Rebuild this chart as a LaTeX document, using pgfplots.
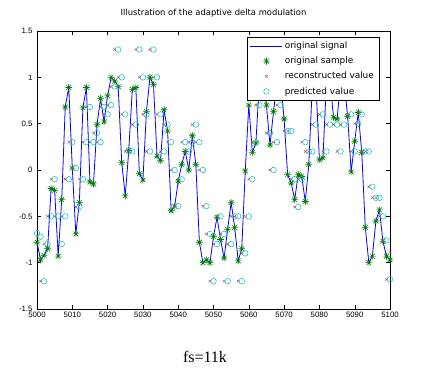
\documentclass[border=0pt]{standalone}
\usepackage{pgfplots}
\usepackage{pgfplotstable}
\pgfplotsset{compat=1.18}
\usepackage{fontspec}
\setmainfont{Liberation Serif}
\newfontfamily\arial{Liberation Sans}
\newfontfamily\msans{DejaVu Sans}
\definecolor{mblue}{rgb}{0,0,1}
\definecolor{mgreen}{rgb}{0,0.5,0}
\definecolor{mred}{rgb}{0.85,0.2,0.3}
\definecolor{mcyan}{rgb}{0,0.75,0.75}
\pgfdeclareplotmark{mstar}{%
  \pgfpathmoveto{\pgfqpoint{-\pgfplotmarksize}{0pt}}\pgfpathlineto{\pgfqpoint{\pgfplotmarksize}{0pt}}%
  \pgfpathmoveto{\pgfqpoint{0pt}{-\pgfplotmarksize}}\pgfpathlineto{\pgfqpoint{0pt}{\pgfplotmarksize}}%
  \pgfpathmoveto{\pgfqpoint{-0.7\pgfplotmarksize}{-0.7\pgfplotmarksize}}\pgfpathlineto{\pgfqpoint{0.7\pgfplotmarksize}{0.7\pgfplotmarksize}}%
  \pgfpathmoveto{\pgfqpoint{-0.7\pgfplotmarksize}{0.7\pgfplotmarksize}}\pgfpathlineto{\pgfqpoint{0.7\pgfplotmarksize}{-0.7\pgfplotmarksize}}%
  \pgfusepathqstroke}
\pgfplotstableread{
n s r
5000 -0.78 -0.72
5001 -0.97 -1.20
5002 -0.92 -0.80
5003 -0.85 -0.50
5004 -0.20 -0.10
5005 -0.22 -0.50
5006 -0.93 -0.80
5007 -0.32 -0.50
5008 0.68 -0.10
5009 0.89 0.30
5010 0.02 0.02
5011 -0.69 -0.40
5012 -0.35 -0.10
5013 0.67 0.30
5014 0.89 0.68
5015 -0.13 0.30
5016 -0.15 0.40
5017 0.49 0.30
5018 0.77 0.68
5019 0.52 0.60
5020 0.80 0.70
5021 1.00 0.90
5022 0.96 1.30
5023 0.90 1.00
5024 0.08 0.60
5025 -0.28 0.20
5026 0.21 0.20
5027 0.87 0.49
5028 0.89 1.30
5029 -0.04 1.00
5030 -0.11 0.60
5031 0.63 0.20
5032 1.00 1.30
5033 0.92 1.00
5034 0.15 0.60
5035 0.10 0.20
5036 0.65 0.49
5037 0.42 0.30
5038 -0.44 0.00
5039 -0.39 -0.39
5040 -0.12 -0.10
5041 0.06 0.30
5042 0.20 0.20
5043 0.00 0.30
5044 0.37 0.49
5045 0.06 0.30
5046 -0.78 0.00
5047 -1.00 -0.39
5048 -0.97 -0.69
5049 -1.00 -1.20
5050 -0.72 -0.80
5051 -0.51 -0.50
5052 -0.75 -0.69
5053 -0.95 -1.20
5054 -0.64 -0.80
5055 -0.35 -0.50
5056 -0.62 -0.50
5057 -0.98 -1.20
5058 -0.85 -0.90
5059 -0.01 -0.50
5060 0.70 -0.10
5061 0.19 0.30
5062 0.29 0.70
5063 0.95 0.90
5064 0.95 0.90
5065 0.70 0.40
5066 0.27 0.00
5067 0.63 0.30
5068 0.95 0.70
5069 0.95 0.90
5070 0.55 0.42
5071 -0.05 0.42
5072 -0.14 -0.10
5073 -0.32 -0.40
5074 -0.05 -0.10
5075 -0.07 0.30
5076 -0.34 0.20
5077 0.06 0.20
5078 0.92 0.49
5079 0.95 0.90
5080 0.11 0.60
5081 0.13 0.20
5082 0.95 0.49
5083 0.95 0.90
5084 0.57 0.49
5085 0.55 0.20
5086 0.95 0.49
5087 0.95 0.90
5088 0.58 0.60
5089 -0.02 0.20
5090 0.31 0.50
5091 0.62 0.60
5092 0.19 0.20
5093 -0.62 0.20
5094 -1.00 -0.18
5095 -0.93 -0.30
5096 -0.55 -0.30
5097 -0.43 -0.50
5098 -0.77 -0.76
5099 -0.93 -1.18
5100 -0.97 -0.88
}\adm
\begin{document}
\begin{tikzpicture}
\path[use as bounding box] (0pt,0pt) rectangle (425pt,379pt);
\begin{axis}[
  at={(37pt,70pt)}, anchor=south west,
  scale only axis, width=353pt, height=278pt,
  xmin=5000, xmax=5100, ymin=-1.5, ymax=1.5,
  xtick={5000,5010,...,5100},
  xticklabels={5000,5010,5020,5030,5040,5050,5060,5070,5080,5090,5100},
  ytick={-1.5,-1,-0.5,0,0.5,1,1.5},
  yticklabels={-1.5,-1,-0.5,0,0.5,1,1.5},
  tick align=inside, tick pos=both,
  major tick length=4pt,
  every tick/.style={black, line width=0.4pt},
  axis line style={line width=0.5pt},
  tick label style={font=\arial\fontsize{7.8}{8}\selectfont},
  yticklabel style={xshift=-1pt},
  /pgf/number format/assume math mode=true,
  title={Illustration of the adaptive delta modulation},
  title style={font=\msans\fontsize{8.4}{9}\selectfont, at={(0.5,1)}, anchor=south, inner sep=0pt, yshift=8pt},
  legend cell align=left,
  legend style={at={(rel axis cs:0.969,0.978)}, anchor=north east,
    font=\msans\fontsize{8.9}{10}\selectfont, fill=white,
    inner xsep=3pt, inner ysep=2.5pt, row sep=2.9pt},
  legend image code/.code={\draw[mark repeat=2,mark phase=2,#1] plot coordinates {(0pt,0pt) (16pt,0pt) (32pt,0pt)};},
]
\addplot[color=mblue, draw=mblue, line width=0.8pt] table[x=n, y=s] {\adm};
\addlegendentry{original signal}
\addplot[only marks, mark=mstar, mark size=3.4pt, mgreen, line width=0.6pt] table[x=n, y=s] {\adm};
\addlegendentry{original sample}
\addplot[only marks, mark=x, mark size=1.8pt, mred, line width=0.4pt] table[x=n, y=r] {\adm};
\addlegendentry{reconstructed value}
\addplot[only marks, mark=o, mark size=2.8pt, mcyan, line width=0.5pt, restrict x to domain=5000:5100] table[x expr=\thisrow{n}+1, y=r] {\adm};
\addlegendentry{predicted value}
\addplot[only marks, mark=o, mark size=2.8pt, mcyan, line width=0.5pt, forget plot] coordinates {(5000,-0.68)};
\end{axis}
\node[font=\fontsize{16}{16}\selectfont] at (205pt,22pt) {fs=11k};
\end{tikzpicture}
\end{document}
